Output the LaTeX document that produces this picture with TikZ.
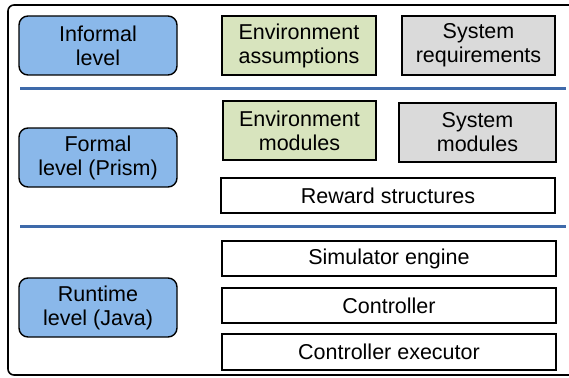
\documentclass[tikz,border=0pt]{standalone}
\usepackage{fontspec}
\setmainfont{Liberation Sans}
\definecolor{lvlblue}{RGB}{138,184,234}
\definecolor{envgreen}{RGB}{216,228,190}
\definecolor{sysgray}{RGB}{218,218,218}
\definecolor{sepblue}{RGB}{62,106,170}
\begin{document}
\begin{tikzpicture}[x=1pt,y=-1pt,
  every node/.style={font=\fontsize{21.5}{24}\selectfont, align=center, inner sep=0pt, line width=1.4pt, draw=black},
  levelbox/.style={rounded corners=9pt, fill=lvlblue},
  envbox/.style={fill=envgreen},
  sysbox/.style={fill=sysgray},
  plainbox/.style={fill=white},
  sepline/.style={draw=sepblue, line width=3pt}]
\useasboundingbox (0,0) rectangle (569,377);
\draw[line width=1.6pt, rounded corners=6pt] (580,5) -- (8,5) -- (8,375) -- (580,375);
% level boxes
\node[levelbox, minimum width=158pt, minimum height=59pt] (inf) at (98,45.5) {Informal\\level};
\node[levelbox, minimum width=158pt, minimum height=59pt] (form) at (98,157.5) {Formal\\level (Prism)};
\node[levelbox, minimum width=158pt, minimum height=59pt] (run) at (98,307.5) {Runtime\\level (Java)};
% informal
\node[envbox, minimum width=154pt, minimum height=59pt] (ea) at (299,45.5) {Environment\\assumptions};
\node[sysbox, minimum width=153pt, minimum height=59pt] (sr) at (478.5,45.5) {System\\requirements};
% formal
\node[envbox, minimum width=153pt, minimum height=59pt] (em) at (299.5,130.5) {Environment\\modules};
\node[sysbox, minimum width=157pt, minimum height=59pt] (sm) at (477.5,132.5) {System\\modules};
\node[plainbox, minimum width=334pt, minimum height=35pt] (rs) at (388,195.5) {Reward structures};
% runtime
\node[plainbox, minimum width=334pt, minimum height=35pt] (se) at (389,258.5) {Simulator engine};
\node[plainbox, minimum width=334pt, minimum height=35pt] (ct) at (389,305.5) {Controller};
\node[plainbox, minimum width=334pt, minimum height=36pt] (ce) at (389,352) {Controller executor};
% separators
\coordinate (s1l) at (20,89);
\coordinate (s1r) at (566,89);
\coordinate (s2l) at (20,226);
\coordinate (s2r) at (566,226);
\draw[sepline] (s1l) -- (s1r);
\draw[sepline] (s2l) -- (s2r);
\end{tikzpicture}
\end{document}
